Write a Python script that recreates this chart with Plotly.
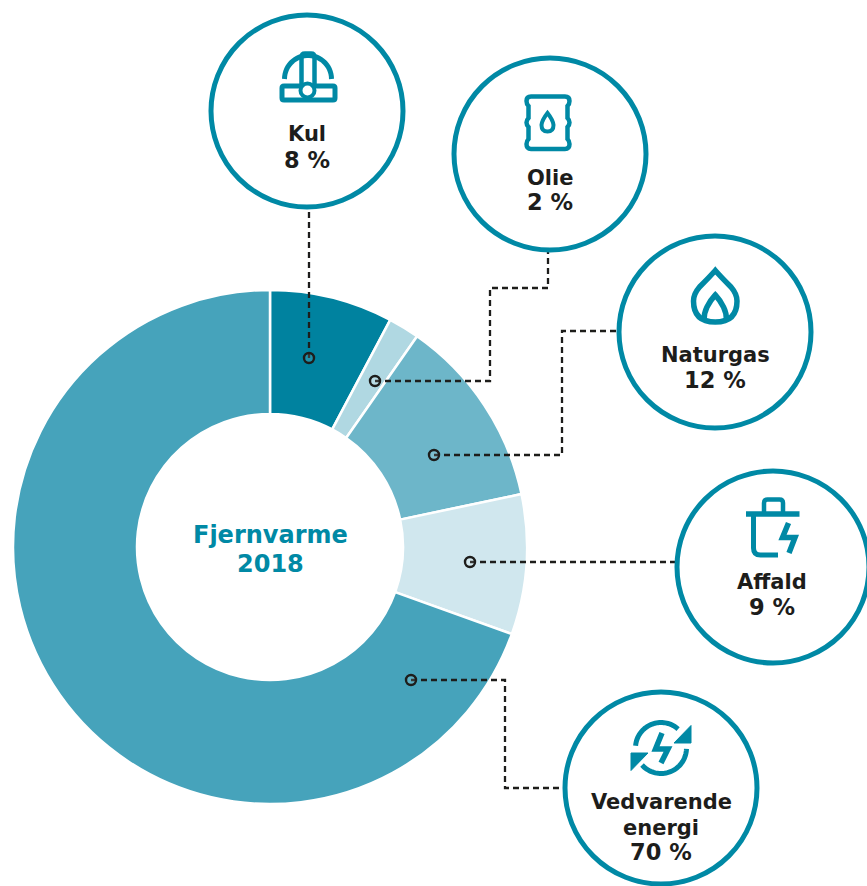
import numpy as np
import plotly.graph_objects as go

W, H = 867, 886

# --- data ---
categories = ["Kul", "Olie", "Naturgas", "Affald", "Vedvarende energi"]
values = [7.75, 1.95, 12.0, 8.8, 69.5]
slice_colors = ["#00829F", "#B0D8E2", "#6DB6C9", "#D0E7EE", "#46A3BB"]
label_lines = [["Kul", "8 %"], ["Olie", "2 %"], ["Naturgas", "12 %"], ["Affald", "9 %"],
               ["Vedvarende", "energi", "70 %"]]
center_lines = ["Fjernvarme", "2018"]

# --- layout in pixels ---
pie_cx, pie_cy, pie_r, hole_r = 270, 547, 257, 133
TEAL = "#0089A5"
INK = "#1D1D1B"
circle_cx = [307, 550, 715, 773, 661]
circle_cy = [111, 154, 332, 567, 788]
circle_r = 96
label_x = [307, 550, 715, 772, 661]
label_y = [[134, 160], [178, 202], [355, 380], [582, 607], [802, 828, 852]]
center_y = [535, 564]
connectors = [
    [(309, 358), (309, 208)],
    [(375, 381), (490, 381), (490, 288), (548, 288), (548, 250)],
    [(434, 455), (562, 455), (562, 331), (618, 331)],
    [(470, 562), (676, 562)],
    [(411, 680), (505, 680), (505, 788), (564, 788)],
]


def poly(pts, close=False):
    s = "M " + " L ".join(f"{x:.2f},{y:.2f}" for x, y in pts)
    return s + (" Z" if close else "")


def arc(cx, cy, r, a0, a1, n=40):
    # angles in degrees, clockwise from the top
    t = np.radians(np.linspace(a0, a1, n))
    return list(zip(cx + r * np.sin(t), cy - r * np.cos(t)))


shapes = []


def stroke(path, w=4.5, fill=None):
    shapes.append(dict(type="path", xref="x", yref="y", path=path, layer="above",
                       line=dict(color=TEAL, width=w),
                       fillcolor=fill or "rgba(0,0,0,0)"))


# connectors and end dots
for pts in connectors:
    shapes.append(dict(type="path", xref="x", yref="y", path=poly(pts), layer="above",
                       line=dict(color=INK, width=2.3, dash="6px,4px"),
                       fillcolor="rgba(0,0,0,0)"))
    x0, y0 = pts[0]
    shapes.append(dict(type="circle", xref="x", yref="y", layer="above",
                       x0=x0 - 5, x1=x0 + 5, y0=y0 - 5, y1=y0 + 5,
                       line=dict(color=INK, width=2.4), fillcolor="rgba(255,255,255,0.12)"))

# label circles
for cx, cy in zip(circle_cx, circle_cy):
    shapes.append(dict(type="circle", xref="x", yref="y", layer="above",
                       x0=cx - circle_r, x1=cx + circle_r, y0=cy - circle_r, y1=cy + circle_r,
                       line=dict(color=TEAL, width=5), fillcolor="#FFFFFF"))

# Kul: helmet
stroke("M 284,86 L 333,86 Q 335,86 335,88 L 335,98 Q 335,100 333,100 L 284,100 Q 282,100 282,98 L 282,88 Q 282,86 284,86 Z", 5)
stroke(poly(arc(308, 79, 23.5, -90, 90, 30)), 5)
stroke("M 301.5,84 L 301.5,57 Q 301.5,53.5 305,53.5 L 311,53.5 Q 314.5,53.5 314.5,57 L 314.5,84")
shapes.append(dict(type="circle", xref="x", yref="y", layer="above", x0=300.5, x1=314.5, y0=83.5, y1=97.5,
                   line=dict(color=TEAL, width=4), fillcolor="#FFFFFF"))

# Olie: barrel and drop
stroke("M 531,96.5 L 565,96.5 Q 569.5,96.5 569.5,101 Q 569.5,104 567.5,106 L 567.5,118 Q 569.5,120 569.5,122.5 "
       "Q 569.5,125 567.5,127 L 567.5,139 Q 569.5,141 569.5,144 Q 569.5,149 565,149 L 531,149 "
       "Q 526.5,149 526.5,144 Q 526.5,141 528.5,139 L 528.5,127 Q 526.5,125 526.5,122.5 Q 526.5,120 528.5,118 "
       "L 528.5,106 Q 526.5,104 526.5,101 Q 526.5,96.5 531,96.5 Z", 4.5)
stroke("M 547.5,113 Q 553,120 553.5,125 Q 553.5,131.5 547.5,131.5 Q 541.5,131.5 541.5,125 Q 542,120 547.5,113 Z", 4)

# Naturgas: flame
stroke("M 715.3,270.5 Q 721,277 731,287 Q 737,294 737,301 Q 737,322 715.3,322 Q 693.5,322 693.5,301 "
       "Q 693.5,294 699.5,287 Q 709.5,277 715.3,270.5 Z", 5.5)
stroke("M 704,320 Q 704,313 707,307 Q 710.5,300 715.3,295 Q 720,300 723.5,307 Q 726.5,313 726.5,320", 5.5)

# Affald: bin and bolt
stroke("M 746,514 L 799.5,514", 5.5)
stroke("M 764,513 L 764,503 Q 764,499.5 767.5,499.5 L 779.5,499.5 Q 783,499.5 783,503 L 783,513", 4.5)
stroke("M 753.5,514 L 753.5,548 Q 753.5,555 760.5,555 L 778,555", 5)
stroke(poly([(788.5, 523), (782.5, 537.5), (795, 537.5), (789, 553)]), 5.5)

# Vedvarende energi: cycle arrows and bolt
stroke(poly(arc(661, 748, 25.5, -85, 42)), 5)
stroke(poly(arc(661, 748, 25.5, 92, 228)), 5)
stroke(poly([(691, 725.5), (691, 743), (674, 743)], True), 1, TEAL)
stroke(poly([(631, 753), (648, 753), (631, 770.5)], True), 1, TEAL)
stroke(poly([(662, 733), (655.5, 749), (668, 749), (661, 763)]), 5.5)

annotations = []
for x, ys, lines in zip(label_x, label_y, label_lines):
    for y, t in zip(ys, lines):
        size = 22.5 if "%" in t else 21
        annotations.append(dict(x=x, y=y, xref="x", yref="y", text=f"<b>{t}</b>", showarrow=False,
                                xanchor="center", yanchor="middle",
                                font=dict(family="DejaVu Sans", size=size, color=INK)))
for y, t in zip(center_y, center_lines):
    annotations.append(dict(x=pie_cx, y=y, xref="x", yref="y", text=f"<b>{t}</b>", showarrow=False,
                            xanchor="center", yanchor="middle",
                            font=dict(family="DejaVu Sans", size=24, color=TEAL)))

fig = go.Figure()
# invisible trace so the pixel-aligned axes exist for the overlay
fig.add_trace(go.Scatter(x=[0, W], y=[0, H], mode="markers", marker=dict(opacity=0),
                         hoverinfo="skip", showlegend=False))
fig.add_trace(go.Pie(labels=categories, values=values, sort=False, direction="clockwise", rotation=0,
                     hole=hole_r / pie_r, textinfo="none", showlegend=False,
                     marker=dict(colors=slice_colors, line=dict(color="#FFFFFF", width=2.5)),
                     domain=dict(x=[(pie_cx - pie_r) / W, (pie_cx + pie_r) / W],
                                 y=[1 - (pie_cy + pie_r) / H, 1 - (pie_cy - pie_r) / H])))
fig.update_layout(
    width=W, height=H, margin=dict(l=0, r=0, t=0, b=0), autosize=False,
    paper_bgcolor="#FFFFFF", plot_bgcolor="#FFFFFF",
    xaxis=dict(range=[0, W], visible=False, fixedrange=True),
    yaxis=dict(range=[H, 0], visible=False, fixedrange=True),
    shapes=shapes, annotations=annotations,
)
fig.write_html("out.html", config=dict(displayModeBar=False),
               post_script="document.body.style.margin='0';document.body.style.overflow='hidden';")
